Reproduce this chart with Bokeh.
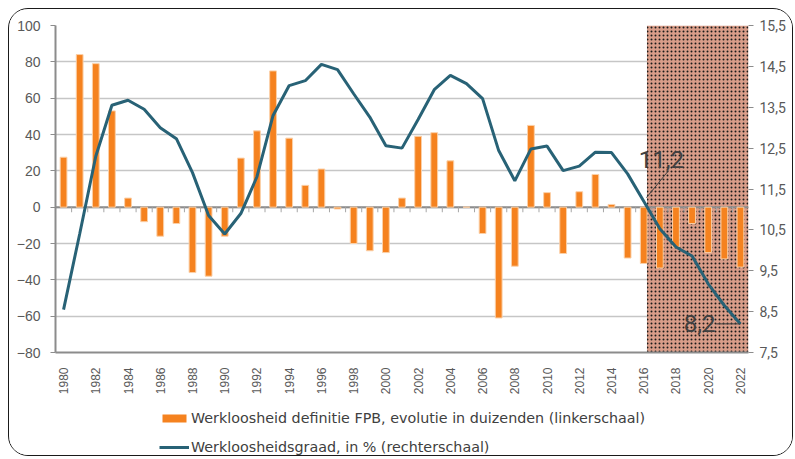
from math import pi
from bokeh.plotting import figure
from bokeh.layouts import column
from bokeh.models import (Range1d, LinearAxis, FixedTicker, Legend, LegendItem,
                          BoxAnnotation, Span)
from bokeh.core.properties import value
from bokeh.embed import file_html
from bokeh.resources import INLINE

# ---------------- data ----------------
years = list(range(1980, 2023))
unemp_change = [27.5, 84, 79, 53, 5, -8, -16, -9, -36, -38,
                -16, 27, 42, 75, 38, 12, 21, -1, -20, -24,
                -25, 5, 39, 41, 25.5, 0, -14.5, -61, -32.5, 45,
                8, -25.5, 8.5, 18, 1.5, -28, -31, -33.5, -22, -9,
                -25, -28.5, -33]
unemp_rate = [8.55, 10.4, 12.3, 13.55, 13.67, 13.45, 13.0, 12.73, 11.9, 10.85,
              10.4, 10.9, 11.8, 13.3, 14.03, 14.15, 14.55, 14.42, 13.83, 13.26,
              12.56, 12.5, 13.2, 13.93, 14.28, 14.08, 13.71, 12.44, 11.7, 12.48,
              12.55, 11.95, 12.06, 12.4, 12.39, 11.87, 11.2, 10.53, 10.08, 9.86,
              9.18, 8.65, 8.2]
left_ticks = [-80, -60, -40, -20, 0, 20, 40, 60, 80, 100]
right_ticks = [7.5, 8.5, 9.5, 10.5, 11.5, 12.5, 13.5, 14.5, 15.5]
year_ticks = list(range(1980, 2023, 2))
forecast_start = 2016.2
label_years = [2016, 2022]
series_bar = "Werkloosheid definitie FPB, evolutie in duizenden (linkerschaal)"
series_line = "Werkloosheidsgraad, in % (rechterschaal)"

BAR_COLOR = "#f5821f"
BAR_EDGE = "#fbd0a8"
LINE_COLOR = "#286276"

def fmt(v):
    return f"{v:.1f}".replace(".", ",")

# ---------------- main figure ----------------
W = 783
p = figure(width=W, height=388, output_backend="svg", toolbar_location=None,
           x_range=Range1d(years[0] - 0.5, years[-1] + 0.5),
           y_range=Range1d(left_ticks[0], left_ticks[-1]),
           min_border_left=46, min_border_right=44, min_border_top=16, min_border_bottom=45)
p.extra_y_ranges = {"right": Range1d(right_ticks[0], right_ticks[-1])}
p.outline_line_color = None
p.background_fill_color = "white"
p.border_fill_color = "white"

# grid
p.xgrid.visible = False
p.ygrid.ticker = FixedTicker(ticks=left_ticks)
p.ygrid.grid_line_color = "#c6c6c6"
p.ygrid.grid_line_width = 1.5

# forecast shading
box = BoxAnnotation(left=forecast_start, fill_color="#d99d89", fill_alpha=1.0,
                    hatch_pattern="dot", hatch_color="#1a1a1a", hatch_scale=4,
                    hatch_weight=1, line_color=None, level="underlay")
p.add_layout(box)

# zero axis line with small boundary ticks
p.add_layout(Span(location=0, dimension="width", line_color="#8c8c8c",
                  line_width=2, level="underlay"))
bounds = [y + 0.5 for y in years[:-1]]
p.segment(x0=bounds, y0=[0] * len(bounds), x1=bounds, y1=[-2.8] * len(bounds),
          line_color="#a6a6a6", line_width=1)

# bars
bars = p.vbar(x=years, top=unemp_change, bottom=0, width=0.42,
              fill_color=BAR_COLOR, line_color=BAR_EDGE, line_width=1)

# line
line = p.line(x=years, y=unemp_rate, y_range_name="right",
              line_color=LINE_COLOR, line_width=3)

# annotations
i1 = years.index(label_years[0])
i2 = years.index(label_years[1])
p.segment(x0=[years[i1] + 0.17], y0=[unemp_rate[i1] + 0.09],
          x1=[years[i1] + 1.54], y1=[unemp_rate[i1] + 0.75],
          y_range_name="right", line_color="#404040", line_width=1)
p.segment(x0=[years[i2] - 1.5], y0=[unemp_rate[i2]],
          x1=[years[i2]], y1=[unemp_rate[i2]],
          y_range_name="right", line_color="#404040", line_width=1)
p.text(x=[years[i1]], y=[unemp_rate[i1]], text=[fmt(unemp_rate[i1])],
       y_range_name="right", x_offset=-5, y_offset=-42,
       text_font=value("Roboto"), text_font_size="24px", text_color="#404040",
       text_align="left", text_baseline="alphabetic")
p.text(x=[years[i2]], y=[unemp_rate[i2]], text=[fmt(unemp_rate[i2])],
       y_range_name="right", x_offset=-25, y_offset=0,
       text_font=value("Roboto"), text_font_size="24px", text_color="#404040",
       text_align="right", text_baseline="alphabetic")

# left axis
ya = p.yaxis[0]
ya.ticker = FixedTicker(ticks=left_ticks)
ya.axis_line_color = "#8c8c8c"
ya.axis_line_width = 2
ya.major_tick_out = 5
ya.major_tick_in = 0
ya.major_tick_line_color = "#8c8c8c"
ya.minor_tick_line_color = None
ya.major_label_text_font = "Liberation Sans"
ya.major_label_text_font_size = "14px"
ya.major_label_text_color = "#595959"
ya.major_label_standoff = 10

# bottom axis
xa = p.xaxis[0]
xa.ticker = FixedTicker(ticks=year_ticks)
xa.axis_line_color = "#8c8c8c"
xa.axis_line_width = 2
xa.major_tick_line_color = None
xa.minor_tick_line_color = None
xa.major_label_orientation = pi / 2
xa.major_label_text_font = "Liberation Sans"
xa.major_label_text_font_size = "12px"
xa.major_label_text_color = "#595959"
xa.major_label_standoff = 9

# right axis
ra = LinearAxis(y_range_name="right", ticker=FixedTicker(ticks=right_ticks))
ra.major_label_overrides = {t: fmt(t) for t in right_ticks}
ra.axis_line_color = None
ra.major_tick_out = 5
ra.major_tick_in = 0
ra.major_tick_line_color = "#8c8c8c"
ra.minor_tick_line_color = None
ra.major_label_text_font = "Roboto"
ra.major_label_text_font_size = "14px"
ra.major_label_text_color = "#595959"
ra.major_label_standoff = 6
p.add_layout(ra, "right")

# ---------------- legend strip ----------------
lg = figure(width=W, height=58, output_backend="svg", toolbar_location=None,
            x_range=Range1d(0, 1), y_range=Range1d(0, 1),
            min_border=0, min_border_left=0, min_border_right=0,
            min_border_top=0, min_border_bottom=0)
lg.axis.visible = False
lg.grid.visible = False
lg.outline_line_color = None
lg.background_fill_color = "white"
lg.border_fill_color = "white"
# zero-size proxy renderers, only used to draw the legend swatches
lbar = lg.vbar(x=[0], top=[0], bottom=[0], width=0.0, fill_color=BAR_COLOR, line_color=None)
lline = lg.line(x=[0], y=[0], line_color=LINE_COLOR, line_width=3)
legend = Legend(items=[LegendItem(label=series_bar, renderers=[lbar]),
                       LegendItem(label=series_line, renderers=[lline])],
                location=(104, 0), orientation="vertical",
                border_line_color=None, background_fill_alpha=0,
                padding=0, margin=0, spacing=13,
                glyph_width=30, glyph_height=10, label_height=14, label_standoff=2,
                label_text_font="DejaVu Sans", label_text_font_size="14.3px",
                label_text_color="#404040")
lg.add_layout(legend)

layout = column(p, lg, spacing=0)
layout.margin = (8, 0, 0, 8)
layout.styles = {"border": "1px solid #1a1a1a", "border-radius": "20px",
                 "overflow": "hidden", "background": "white"}

open("out.html", "w").write(file_html(layout, INLINE))
